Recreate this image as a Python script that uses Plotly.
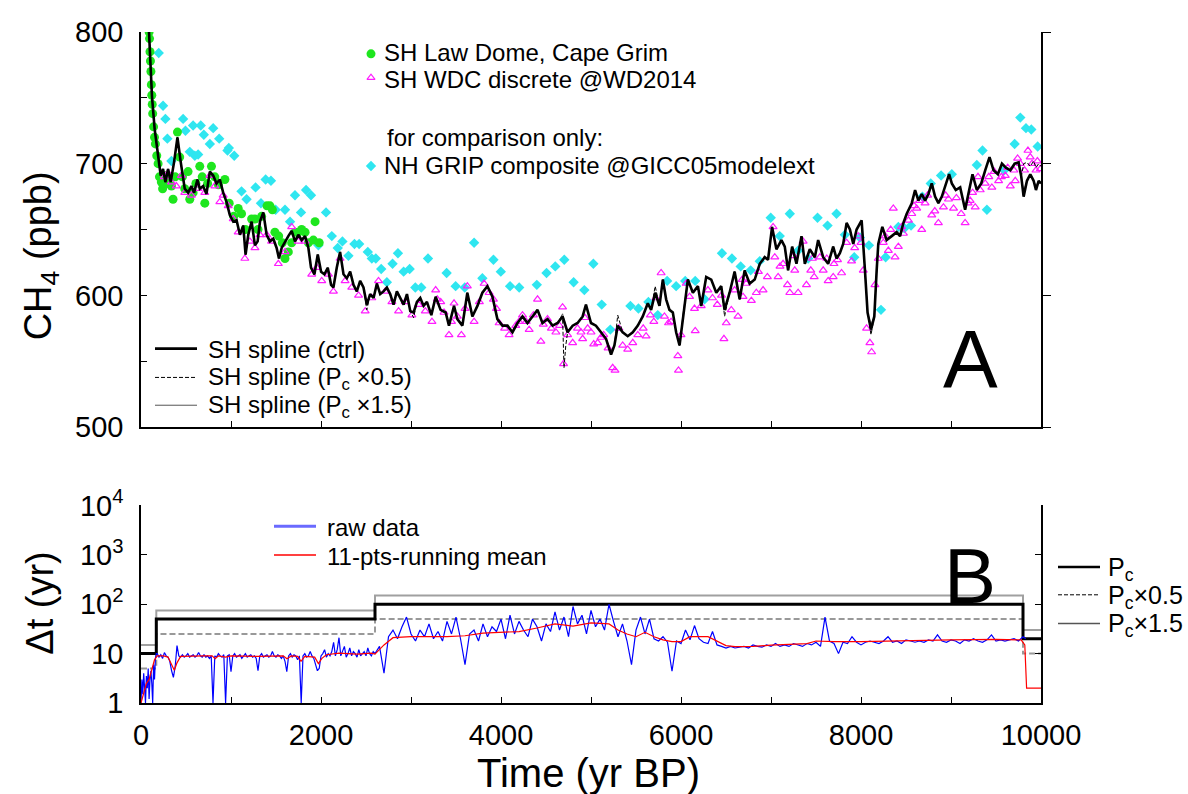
import plotly.graph_objects as go

# ---------------- Panel A data ----------------
spline_t = [89,108,122,152,189,219,245,271,301,330,367,405,442,486,523,560,590,627,653,690,727,765,802,839,876,913,950,987,1025,1062,1099,1136,1162,1192,1229,1266,1296,1322,1359,1396,1433,1470,1507,1533,1563,1600,1637,1674,1711,1748,1785,1823,1860,1889,1927,1964,2001,2038,2075,2112,2138,2175,2212,2250,2287,2324,2361,2398,2435,2472,2509,2546,2584,2621,2658,2695,2732,2769,2806,2843,2880,2918,2955,2992,3029,3066,3103,3140,3177,3226,
            3274,3329,3385,3422,3478,3515,3571,3626,3682,3738,3793,3849,3905,3960,4016,4072,4127,4183,4239,4294,4350,4406,4461,4517,4573,4629,4684,4740,4796,4851,4907,4944,5000,5055,5111,5167,5223,5260,5297,5352,5408,5464,5520,5575,5631,5668,5713,5761,5798,5835,5872,5909,5946,5984,6021,6076,6132,6188,6225,6280,6336,6392,6447,6484,6540,
            6596,6652,6707,6763,6819,6875,6930,6967,7012,7060,7116,7153,7190,7235,7283,7339,7376,7431,7487,7524,7580,7635,7691,7728,7765,7802,7840,7877,7914,7951,8007,8044,8073,8111,8148,8174,8192,8237,8285,8341,8396,8434,8471,8508,8564,8601,8638,8675,8712,8749,8786,8823,8860,8898,8935,8979,9009,9053,9102,9157,9202,9239,9287,9336,9380,9428,9473,9521,9566,9610,9659,9707,9751,9781,9807,9844,9881,9918,9944,9974,10000]
spline_ctrl = [800,776,751,726,706,691,696,686,696,686,701,720,701,681,678,683,678,688,681,683,677,694,691,685,688,678,671,661,656,657,646,653,631,646,656,638,641,656,663,646,641,643,636,628,636,641,645,649,641,646,642,645,636,621,616,631,618,616,621,608,606,621,633,616,613,618,608,603,611,606,593,601,598,609,601,603,606,601,593,603,598,593,601,588,587,595,598,592,595,585,
               599,589,587,577,592,582,577,602,584,592,602,607,599,582,577,577,572,579,584,579,584,589,579,582,577,579,584,572,577,579,584,593,579,577,572,567,555,562,577,572,569,572,577,584,594,589,602,592,612,597,589,587,572,562,582,612,602,607,592,614,612,602,607,589,602,
               618,597,619,609,612,624,629,627,652,635,642,637,619,637,624,645,624,635,629,642,629,624,637,628,632,639,655,650,639,650,657,619,587,574,584,619,639,652,642,645,648,645,655,662,670,680,672,677,672,677,685,675,670,675,682,692,685,680,682,665,680,692,680,685,695,705,695,692,700,697,695,700,701,690,675,687,692,687,680,687,685]
# departures of the sensitivity splines from the control spline
p05_changes = {2509: 589, 3029: 583, 4700: 545, 4720: 562, 5297: 585, 5713: 607, 6484: 584, 8111: 570,
               9807: 700, 9844: 701, 9881: 698, 9918: 702, 9944: 697, 9974: 700, 10000: 698}
p15_changes = {4684: 586, 5223: 558, 6021: 585, 8111: 578, 9807: 679, 9944: 683}

law_t = [90,95,100,105,110,115,120,125,130,140,150,160,175,190,205,226,240,260,282,300,338,356,380,405,430,460,486,523,542,579,610,653,680,709,740,783,820,860,932,980,1030,1080,1117,1160,1229,1266,1300,1340,1400,1433,1460,1488,1530,1570,1600,1637,1674,1711,1748,1785,1823,1860,1915,1934,1980]
law_v = [800,795,785,778,770,760,752,745,738,728,720,715,706,700,690,686,681,684,691,688,683,673,690,724,705,690,681,694,673,678,685,698,690,670,685,698,690,684,688,670,660,666,662,650,658,658,650,660,668,668,665,648,645,640,628,633,640,648,648,650,648,640,642,656,640]

wdc_t = [260,300,338,393,449,486,560,635,709,765,820,876,913,969,1025,1080,1154,1210,1266,1321,1396,1451,1526,1600,1674,1748,1823,1897,1953,2008,2082,2138,2212,2268,2342,2417,2491,2565,2639,2713,2788,2862,2936,3010,3085,3159,3233,
         3274,3292,3367,3422,3478,3515,3560,3626,3701,3812,3868,3916,3979,4090,4164,4239,4313,4406,4443,4517,4610,4684,4695,4796,4889,4907,4933,4963,5030,5074,5141,5241,5267,5352,5408,5464,5520,5612,5698,5779,5816,5861,5965,5972,6058,6095,6158,6225,6299,6403,6477,6503,6559,6596,
         6633,6689,6726,6782,6837,6912,6960,7023,7042,7079,7134,7183,7209,7264,7301,7357,7394,7442,7480,7543,7580,7635,7691,7739,7784,7840,7895,7969,8025,8062,8099,8118,8155,8192,8248,8304,8359,8378,8415,8471,8527,8564,8619,8675,8712,8786,8860,8916,8972,9028,9113,9157,9213,9269,9325,9380,9454,9529,9603,9659,9714,9770,9818,9855,9900,9944,9993,
         6150,6350,6450,6680,6860,7100,7250,7460,7620,7700,7930,8000,8270,8330,8450,8590,8650,8740,8820,8940,9060,9190,9240,9300,9420,9480,9560,9630,9700,9740,9880,9960,
         3330,3450,3600,3760,3950,4040,4200,4280,4360,4470,4560,4650,4740,4850,5000,5110,5190,5310,5580,5660,5720,5890,6000]
wdc_v = [690,693,686,683,691,678,676,681,678,691,683,671,676,668,658,648,628,641,636,646,646,641,624,633,652,641,641,616,621,611,616,603,628,611,606,600,588,598,611,603,595,588,595,585,593,588,580,
         604,597,587,570,594,584,570,607,580,609,602,597,579,570,577,585,574,597,565,582,572,591,548,564,572,567,583,575,563,564,570,545,543,562,559,564,570,569,580,617,584,579,554,543,609,599,573,592,604,593,567,579,589,604,
         584,599,609,596,602,604,614,652,629,614,624,608,602,619,602,641,608,619,614,629,619,611,614,627,617,640,626,645,619,575,564,557,608,628,640,634,666,629,637,647,657,662,666,650,670,661,655,667,673,666,662,655,672,667,680,685,682,687,691,683,687,700,695,710,700,695,696,
         590,598,600,612,618,622,630,628,628,624,636,640,645,650,652,668,672,676,664,676,674,670,678,690,690,694,690,697,695,704,705,702,
         595,580,590,595,590,575,580,580,585,578,575,577,570,575,572,568,560,575,575,585,598,580,570]

grip_t = [197,245,271,293,338,468,494,542,579,598,635,664,698,765,802,869,961,976,1036,1117,1173,1273,1333,1385,1444,1496,1600,1656,1711,1778,1834,1889,1971,2056,2120,2186,2238,2305,2372,2424,2520,2565,2609,2669,2732,2795,2855,2918,2985,3048,3114,3189,
          3396,3496,3597,3701,3793,3916,3998,4101,4202,4398,4506,4603,4703,4807,4926,5026,5119,5215,5438,5527,5638,5742,5846,5946,6047,6158,6262,6455,6566,
          6663,6774,6875,6997,7097,7209,7301,7413,7517,7628,7728,7821,7925,7988,8088,8222,8274,8415,8482,8556,8682,8775,8890,9009,9287,9350,9399,9592,9707,9770,9833,9892,9963]
grip_v = [784,744,734,719,702,734,725,709,729,706,707,729,722,715,727,719,710,712,706,679,673,682,670,688,687,665,665,656,676,663,680,676,638,663,645,636,641,630,639,639,633,628,628,620,610,624,632,618,620,606,606,628,
          617,607,606,640,613,627,618,607,606,608,617,622,627,610,604,624,593,574,592,590,595,585,611,607,611,611,597,632,628,
          622,619,626,659,645,662,634,628,659,653,662,646,629,644,638,589,629,652,651,653,675,685,691,692,699,710,665,695,715,735,727,726,713]

# ---------------- Panel B data ----------------
raw_t = [0,10,20,30,40,50,60,70,80,90,100,110,120,130,140,150,160,170,
         180,200,220,240,260,280,300,320,340,360,380,400,420,440,460,480,500,520,540,560,580,600,620,640,660,680,700,720,740,760,
         780,800,820,840,860,880,900,920,940,960,980,1000,1020,1040,1060,1080,1100,1120,1140,1160,1180,1200,1220,1240,1260,1280,1300,1320,1340,1360,
         1380,1400,1420,1440,1460,1480,1500,1520,1540,1560,1580,1600,1620,1640,1660,1680,1700,1720,1740,1760,1780,1800,1820,1840,1860,1880,1900,1920,1940,1960,
         1980,2000,2020,2040,2060,2080,2100,2120,2140,2160,2180,2200,2220,2240,2260,2280,2300,2320,2340,2360,2380,2400,2420,2440,2460,2480,2500,2520,2540,2560,2580,2600,
         2650,2700,2750,2800,2850,2900,2950,3000,3050,3100,3150,3200,3250,3300,3350,3400,3450,3500,3550,3600,
         3650,3700,3750,3800,3850,3900,3950,4000,4050,4100,4150,4200,4250,4300,4350,4400,4450,4500,4550,4600,
         4650,4700,4750,4800,4850,4900,4950,5000,5050,5100,5150,5200,5250,5300,5350,5400,5450,5500,5550,5600,
         5650,5700,5750,5800,5850,5900,5950,6000,6050,6100,6150,6200,6250,6300,6350,6400,6450,6500,6550,6600,
         6650,6700,6750,6800,6850,6900,6950,7000,7050,7100,7150,7200,7250,7300,7350,7400,7450,7500,7550,7600,
         7650,7700,7750,7800,7850,7900,7950,8000,8050,8100,8150,8200,8250,8300,8350,8400,8450,8500,8550,8600,
         8650,8700,8750,8800,8850,8900,8950,9000,9050,9100,9150,9200,9250,9300,9350,9400,9450,9500,9550,9600,
         9650,9700,9750,9800,9830]
raw_dt = [1,3,1.5,4,2,1,3.5,2,5,1.2,3,4.5,2.5,1,6,3,8,10,
          10,8.5,9.5,8,10.5,9,8.5,7,4.5,3.3,5.5,14.5,9,8.5,9.5,8.5,9,10,8.5,9,9.5,8.5,9,10.5,9,8.5,9.5,8.5,9,8,
          9,1,9,8.5,10,9,8.5,9.5,1,9,9.5,4.3,9,10,8.5,9,9.5,8,9,10,8.5,9,9.5,8.5,9,8,4.5,9,10,8.5,
          9,9.5,8.5,9,11,9,8.5,9.5,9,8,9,7,4.3,9,10,8.5,9.5,9,7.5,9,1,9,10,8.5,9,11,9,8,6,4.5,
          5,9,10,12,8.5,10,9,11,17,9,12,21,9,11,14,8.5,10,13,9,11,10,8.5,12,9,10,11,9,13,10,9,11,10,
          14,4,22,30,20,35,55,25,18,30,22,40,20,28,18,45,25,55,20,6,
          25,30,18,40,22,35,28,50,20,60,25,45,30,22,50,35,18,40,28,70,
          30,55,22,90,40,60,25,75,35,50,30,100,45,22,40,18,6,30,55,25,
          50,20,18,22,17,4.4,18,16,30,19,37,20,17,16,28,15,14,13,14,13,
          13.5,14,13,15,14,13.5,15,14,16,14,15,14,16,15,14,16,15,17,14,55,
          18,16,10,17,16,22,17,15,17,18,17,16,18,22,17,18,16,19,18,17,
          18,17,19,18,24,18,17,19,18,16,19,18,20,18,17,19,24,18,19,18,
          19,20,18,22,20]

mean_t = [0,30,60,90,120,150,180,250,300,340,370,400,440,700,790,824,860,940,1000,1300,1580,1622,1670,1740,1778,1820,1930,1971,2010,2060,2200,2400,2560,2600,
          2700,2800,3000,3400,3600,3800,4000,4200,4400,4600,4800,5000,5200,5300,5400,5500,5600,5700,5800,5900,6000,6100,6300,6400,6500,6600,6800,7000,7200,7400,7500,7700,8000,8500,9000,9500,9780,9820,9840,10000]
mean_dt = [1,1.5,2.5,3,5,7.5,9,9,8.5,6,4.6,6.5,8.8,9,9,7.9,9,8.5,9,8.8,9,7.9,9,8.8,7,8.8,8.5,6.3,8,9.5,10.2,9.8,10.2,9.8,
           15,21,22,22,23,26,27,28,33,40,36,42,40,30,25,22,27,22,19,17.5,17.5,22,22,18,14.5,13.8,14,14.8,15.5,16,18,17.5,17.5,18.5,19,19.5,19,15,2,2]

pc_t = [0,170,2600,9800,10000]
pc = [10,50,100,20,20]
pc_half = [5,25,50,10,10]
pc_onehalf = [15,75,150,30,30]

x_ticks = [0, 2000, 4000, 6000, 8000, 10000]
x_ticklabels = ["0", "2000", "4000", "6000", "8000", "10000"]

# ---------------- geometry helpers (pixel layout) ----------------
W, H = 1188, 794
L, R, T, B = 141, 1041, 27, 703
def px(x):
    return (x - L) / (R - L)
def py(y):
    return (B - y) / (B - T)

FONT = "Liberation Sans, Arial, sans-serif"

def with_changes(base_t, base_v, changes):
    d = dict(zip(base_t, base_v))
    d.update(changes)
    ks = sorted(d)
    return ks, [d[k] for k in ks]

p05_t, p05_v = with_changes(spline_t, spline_ctrl, p05_changes)
p15_t, p15_v = with_changes(spline_t, spline_ctrl, p15_changes)

fig = go.Figure()

# Panel A traces
fig.add_trace(go.Scatter(x=grip_t, y=grip_v, mode="markers", xaxis="x2", yaxis="y2",
                         marker=dict(symbol="diamond", size=8, color="#2fe6f0"), showlegend=False))
fig.add_trace(go.Scatter(x=law_t, y=law_v, mode="markers", xaxis="x2", yaxis="y2",
                         marker=dict(symbol="circle", size=9, color="#1ee61e"), showlegend=False))
fig.add_trace(go.Scatter(x=wdc_t, y=wdc_v, mode="markers", xaxis="x2", yaxis="y2",
                         marker=dict(symbol="triangle-up-open", size=7, color="#ff1cff", line=dict(width=1.2)),
                         showlegend=False))
fig.add_trace(go.Scatter(x=p15_t, y=p15_v, mode="lines", xaxis="x2", yaxis="y2",
                         line=dict(color="#555555", width=1), showlegend=False))
fig.add_trace(go.Scatter(x=spline_t, y=spline_ctrl, mode="lines", xaxis="x2", yaxis="y2",
                         line=dict(color="black", width=2.6), showlegend=False))
fig.add_trace(go.Scatter(x=p05_t, y=p05_v, mode="lines", xaxis="x2", yaxis="y2",
                         line=dict(color="black", width=1, dash="4px,2px"), showlegend=False))
fig.add_trace(go.Scatter(x=[], y=[], xaxis="x2", yaxis="y4", showlegend=False))

# Panel B traces
fig.add_trace(go.Scatter(x=pc_t, y=pc_onehalf, mode="lines", line_shape="hv",
                         line=dict(color="#a0a0a0", width=2), showlegend=False))
fig.add_trace(go.Scatter(x=pc_t, y=pc_half, mode="lines", line_shape="hv",
                         line=dict(color="#999999", width=2, dash="6px,3px"), showlegend=False))
fig.add_trace(go.Scatter(x=pc_t, y=pc, mode="lines", line_shape="hv",
                         line=dict(color="black", width=3), showlegend=False))
fig.add_trace(go.Scatter(x=raw_t, y=raw_dt, mode="lines",
                         line=dict(color="#0000ff", width=1.2), showlegend=False))
fig.add_trace(go.Scatter(x=mean_t, y=mean_dt, mode="lines",
                         line=dict(color="#ff0000", width=1.2), showlegend=False))
fig.add_trace(go.Scatter(x=[], y=[], xaxis="x", yaxis="y3", showlegend=False))

# legend glyph markers on a pixel helper axis
fig.add_trace(go.Scatter(x=[371], y=[49], xaxis="x3", yaxis="y5", mode="markers", cliponaxis=False,
                         marker=dict(symbol="circle", size=9, color="#1ee61e"), showlegend=False))
fig.add_trace(go.Scatter(x=[371], y=[73], xaxis="x3", yaxis="y5", mode="markers", cliponaxis=False,
                         marker=dict(symbol="triangle-up-open", size=7, color="#ff1cff", line=dict(width=1.2)),
                         showlegend=False))
fig.add_trace(go.Scatter(x=[371], y=[162], xaxis="x3", yaxis="y5", mode="markers", cliponaxis=False,
                         marker=dict(symbol="diamond", size=8, color="#2fe6f0"), showlegend=False))

shapes = []
def hline(x0, x1, y, color, width, dash="solid"):
    shapes.append(dict(type="line", xref="paper", yref="paper", x0=px(x0), x1=px(x1), y0=py(y), y1=py(y),
                       line=dict(color=color, width=width, dash=dash)))
hline(155, 197, 346, "black", 2.6)
hline(155, 197, 375, "black", 1, "4px,2px")
hline(155, 197, 403, "#555555", 1)
hline(274, 316, 525, "#6a6aff", 3)
hline(274, 316, 554, "#ff0000", 1.5)
hline(1058, 1100, 566, "black", 2.5)
hline(1058, 1100, 594, "black", 1, "4px,2px")
hline(1058, 1100, 623, "#555555", 1.5)

ann = []
def text(x, y, s, size=24, xanchor="left", angle=0):
    ann.append(dict(x=px(x), y=py(y), xref="paper", yref="paper", text=s, showarrow=False,
                    xanchor=xanchor, yanchor="middle", textangle=angle,
                    font=dict(family=FONT, size=size, color="black")))
text(382, 48, "SH Law Dome, Cape Grim")
text(382, 75, "SH WDC discrete @WD2014")
text(385, 133, "for comparison only:")
text(382, 161, "NH GRIP composite @GICC05modelext")
text(206, 347, "SH spline (ctrl)")
text(206, 376, "SH spline (P<sub>c</sub> ×0.5)")
text(206, 404, "SH spline (P<sub>c</sub> ×1.5)")
text(325, 526, "raw data")
text(325, 555, "11-pts-running mean")
text(1106, 568, "P<sub>c</sub>", 25)
text(1106, 596, "P<sub>c</sub>×0.5", 25)
text(1106, 624, "P<sub>c</sub>×1.5", 25)
text(970, 356, "A", 82, "center")
text(970, 575, "B", 78, "center")
text(41, 253, "CH<sub>4</sub> (ppb)", 38, "center", -90)
text(40, 603, "Δt (yr)", 38, "center", -90)
text(588, 774, "Time (yr BP)", 40, "center")

axis_common = dict(showgrid=False, zeroline=False, showline=True, linecolor="black", linewidth=1.5,
                   tickcolor="black", tickwidth=1.2, tickfont=dict(family=FONT, size=29, color="black"))

domA = [py(425), 1.0]
domB = [0.0, py(504)]

fig.update_layout(
    width=W, height=H,
    margin=dict(l=L, r=W - R, t=T, b=H - B, pad=0),
    paper_bgcolor="white", plot_bgcolor="rgba(0,0,0,0)",
    showlegend=False,
    xaxis=dict(axis_common, domain=[0, 1], anchor="y", range=[0, 10000], ticks="inside", ticklen=6,
               tickvals=x_ticks, ticktext=x_ticklabels, ticklabelstandoff=5,
               minor=dict(ticks="inside", ticklen=6, tickvals=[1000, 3000, 5000, 7000, 9000], tickcolor="black")),
    yaxis=dict(axis_common, domain=domB, anchor="x", type="log", range=[0, 4], ticks="inside", ticklen=6,
               tickvals=[1, 10, 100, 1000, 10000],
               ticktext=["1", "10", "10<sup>2</sup>", "10<sup>3</sup>", "10<sup>4</sup>"], ticklabelstandoff=10),
    yaxis3=dict(axis_common, overlaying="y", side="right", anchor="x", type="log", range=[0, 4],
                ticks="inside", ticklen=6, tickvals=[1, 10, 100, 1000, 10000], showticklabels=False),
    xaxis2=dict(axis_common, domain=[0, 1], anchor="y2", range=[0, 10000], ticks="inside", ticklen=6,
                dtick=1000, tick0=0, showticklabels=False),
    yaxis2=dict(axis_common, domain=domA, anchor="x2", range=[500, 800], ticks="inside", ticklen=6,
                tickvals=[500, 600, 700, 800], ticklabelstandoff=10,
                minor=dict(ticks="inside", ticklen=6, tickvals=[550, 650, 750], tickcolor="black")),
    yaxis4=dict(axis_common, overlaying="y2", side="right", anchor="x2", range=[500, 800],
                ticks="outside", ticklen=8, tickvals=[500, 600, 700, 800], showticklabels=False),
    xaxis3=dict(domain=[0, 1], anchor="y5", range=[L, R], visible=False),
    yaxis5=dict(domain=[0, 1], anchor="x3", range=[B, T], visible=False),
    shapes=shapes, annotations=ann,
)

fig.write_html("out.html")
